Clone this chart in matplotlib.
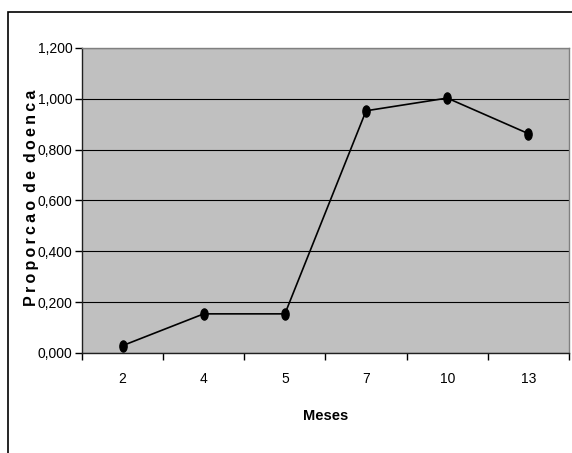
import matplotlib.pyplot as plt
from matplotlib.path import Path
from matplotlib.patches import Rectangle
from matplotlib.ticker import FuncFormatter, MultipleLocator, FixedLocator

plt.rcParams["font.family"] = ["Liberation Sans", "DejaVu Sans"]

months = ["2", "4", "5", "7", "10", "13"]
proportion = [0.029, 0.154, 0.154, 0.953, 1.003, 0.863]


def ellipse_marker(w=0.65, h=1.0):
    circ = Path.unit_circle()
    verts = circ.vertices.copy()
    verts[:, 0] *= w
    verts[:, 1] *= h
    return Path(verts, circ.codes)


W, H = 572, 453
fig = plt.figure(figsize=(W / 100, H / 100), dpi=100)

# outer chart frame (only left and top show in the crop)
fig.patches.append(Rectangle((8 / W, -0.1), 1.2, 1 - 12 / H + 0.1,
                             transform=fig.transFigure, fill=False,
                             edgecolor="black", linewidth=1.2))

ax = fig.add_axes([82 / W, 1 - 353 / H, 487 / W, 305 / H])
ax.set_facecolor("#c0c0c0")

x = range(len(months))
ax.plot(x, proportion, color="black", linewidth=1.2,
        marker=ellipse_marker(), markersize=8, markerfacecolor="black",
        markeredgecolor="black")

ax.set_xlim(-0.5, len(months) - 0.5)
ax.set_ylim(0, 1.2)

ax.yaxis.set_major_locator(MultipleLocator(0.2))
ax.yaxis.set_major_formatter(FuncFormatter(lambda v, p: f"{v:.3f}".replace(".", ",")))
ax.grid(axis="y", color="black", linewidth=0.8)
ax.set_axisbelow(True)

ax.set_xticks(list(x))
ax.set_xticklabels(months)
ax.xaxis.set_minor_locator(FixedLocator([i + 0.5 for i in range(-1, len(months))]))
ax.tick_params(axis="x", which="major", length=0, pad=14, labelsize=10)
ax.tick_params(axis="x", which="minor", length=5, width=1, direction="out")
ax.tick_params(axis="y", length=5, width=1, direction="out", pad=2, labelsize=10)

for side in ("left", "bottom"):
    ax.spines[side].set_color("#202020")
    ax.spines[side].set_linewidth(1)
for side in ("top", "right"):
    ax.spines[side].set_color("#808080")
    ax.spines[side].set_linewidth(1)

ax.set_xlabel("Meses", fontweight="bold", fontsize=10.5, labelpad=16)
ylab = "\u2002".join("\u2009".join(word) for word in "Proporcao de doenca".split())
fig.text(32 / W, 1 - 198 / H, ylab,
         rotation=90, ha="center", va="center", fontweight="bold", fontsize=11.5)

fig.savefig("out.png", dpi=100)
